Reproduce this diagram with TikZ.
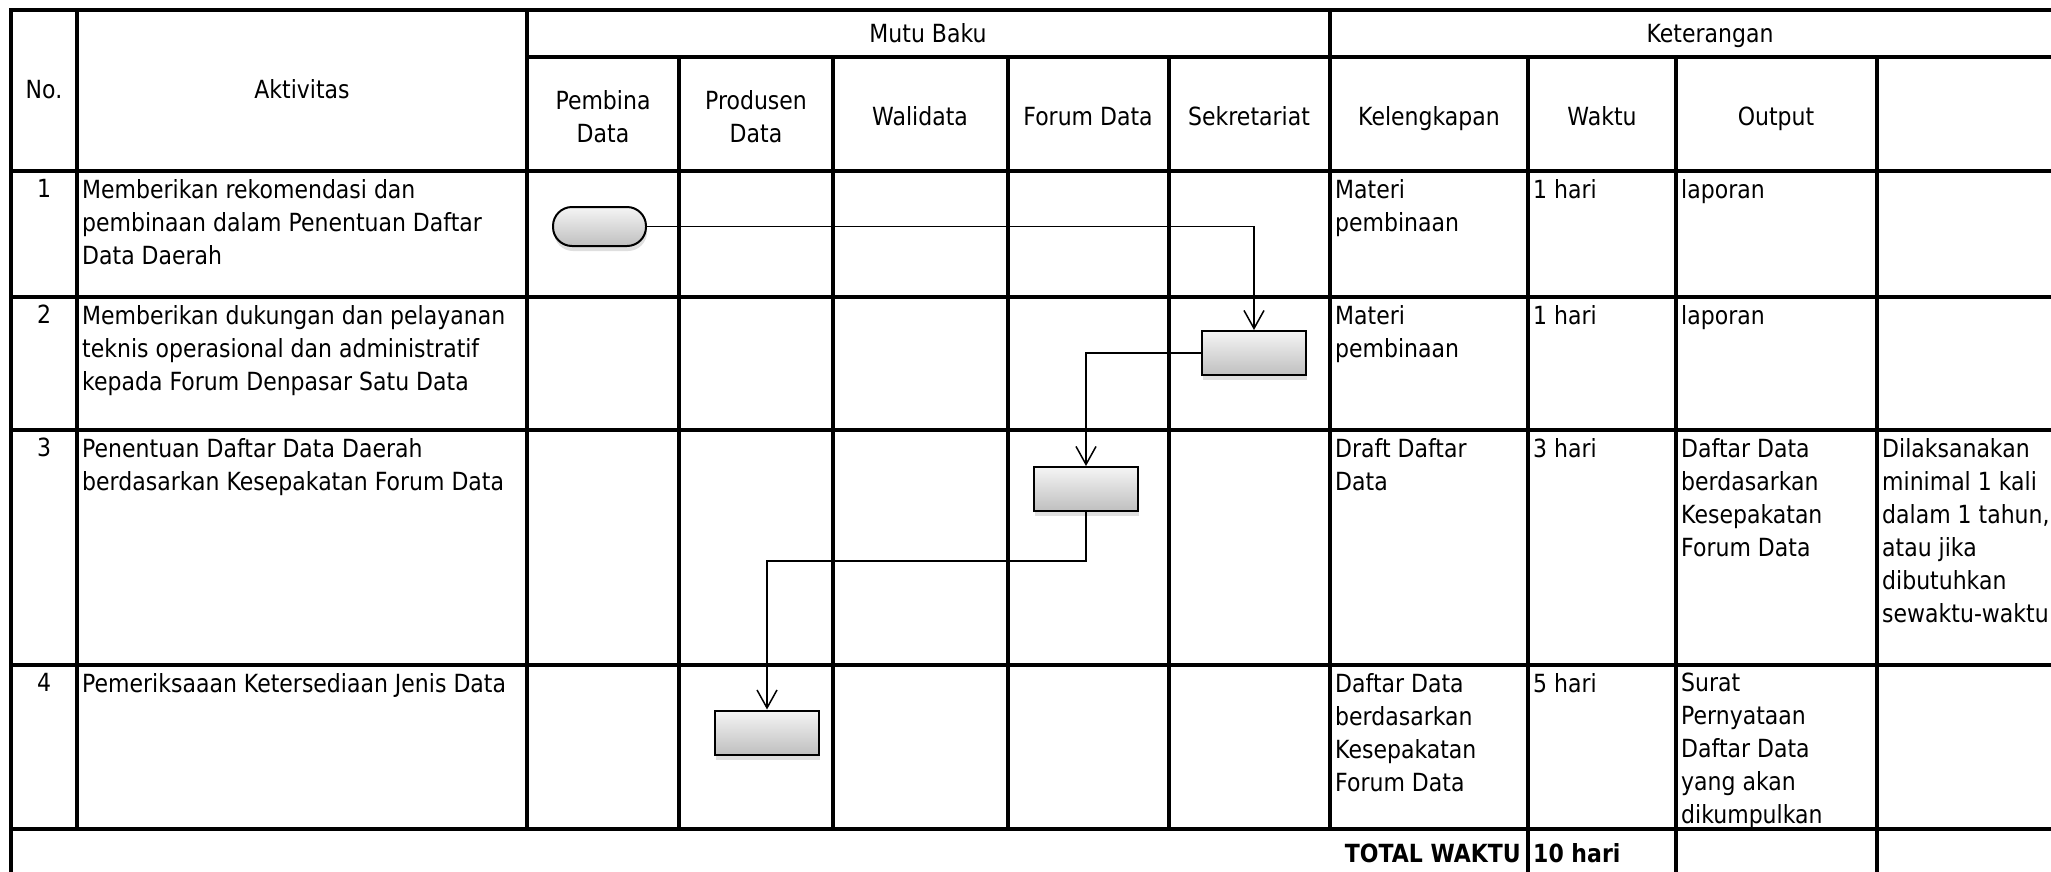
\documentclass[tikz,border=0pt]{standalone}
\usepackage{fontspec}
\setmainfont{DejaVu Sans}[FakeStretch=0.88]
\usetikzlibrary{arrows.meta,shadows}

\begin{document}
\begin{tikzpicture}
  [x=1pt,y=-1pt,
   every node/.style={inner sep=0pt,font=\fontsize{25}{33}\selectfont},
   hdr/.style={anchor=north,align=center},
   cell/.style={anchor=north west,align=left},
   num/.style={anchor=north},
   gridline/.style={line width=3.2pt,line cap=rect},
   proc/.style={draw,line width=2pt,top color=gray!8,bottom color=gray!50,
     drop shadow={shadow xshift=1pt,shadow yshift=-5pt,opacity=.25},
     minimum width=104pt,minimum height=44pt},
   term/.style={proc,rounded corners=19pt,minimum width=93pt,minimum height=39pt},
   flowarrow/.style={line width=1.5pt,-{Straight Barb[length=18pt,width=20pt]}}]
  \useasboundingbox (0,0) rectangle (2051,871);

  \foreach \y in {10,171,297,430,665,829}
    \draw[gridline] (11,\y) -- (2090,\y);
  \draw[gridline] (527,57) -- (2090,57);
  \foreach \x/\ya/\yb in {11/10/880,77/10/829,527/10/829,679/57/829,833/57/829,
      1008/57/829,1169/57/829,1330/10/829,1528/57/880,1676/57/880,1877/57/880,2090/10/880}
    \draw[gridline] (\x,\ya) -- (\x,\yb);

  \node[anchor=base] (no) at (44,98) {No.};
  \node[anchor=base] (akt) at (302,98) {Aktivitas};
  \node[anchor=base] (mutu) at (928,42) {Mutu Baku};
  \node[anchor=base] (ket) at (1710,42) {Keterangan};
  \node[hdr] (pembina) at (603,90) {Pembina\\Data};
  \node[hdr] (produsen) at (756,90) {Produsen\\Data};
  \node[anchor=base] (walidata) at (920,125) {Walidata};
  \node[anchor=base] (forumdata) at (1088,125) {Forum Data};
  \node[anchor=base] (sekretariat) at (1249,125) {Sekretariat};
  \node[anchor=base] (kelengkapan) at (1429,125) {Kelengkapan};
  \node[anchor=base] (waktu) at (1602,125) {Waktu};
  \node[anchor=base] (output) at (1776,125) {Output};

  \node[num] (n1) at (44,179) {1};
  \node[cell] (a1) at (82,179) {Memberikan rekomendasi dan\\pembinaan dalam Penentuan Daftar\\Data Daerah};
  \node[cell] (k1) at (1335,179) {Materi\\pembinaan};
  \node[cell] (w1) at (1533,179) {1 hari};
  \node[cell] (o1) at (1681,179) {laporan};

  \node[num] (n2) at (44,305) {2};
  \node[cell] (a2) at (82,305) {Memberikan dukungan dan pelayanan\\teknis operasional dan administratif\\kepada Forum Denpasar Satu Data};
  \node[cell] (k2) at (1335,305) {Materi\\pembinaan};
  \node[cell] (w2) at (1533,305) {1 hari};
  \node[cell] (o2) at (1681,305) {laporan};

  \node[num] (n3) at (44,438) {3};
  \node[cell] (a3) at (82,438) {Penentuan Daftar Data Daerah\\berdasarkan Kesepakatan Forum Data};
  \node[cell] (k3) at (1335,438) {Draft Daftar\\Data};
  \node[cell] (w3) at (1533,438) {3 hari};
  \node[cell] (o3) at (1681,438) {Daftar Data\\berdasarkan\\Kesepakatan\\Forum Data};
  \node[cell] (c3) at (1882,438) {Dilaksanakan\\minimal 1 kali\\dalam 1 tahun,\\atau jika\\dibutuhkan\\sewaktu-waktu};

  \node[num] (n4) at (44,673) {4};
  \node[cell] (a4) at (82,673) {Pemeriksaaan Ketersediaan Jenis Data};
  \node[cell] (k4) at (1335,673) {Daftar Data\\berdasarkan\\Kesepakatan\\Forum Data};
  \node[cell] (w4) at (1533,673) {5 hari};
  \node[cell] (o4) at (1681,673) {Surat\\Pernyataan\\Daftar Data\\yang akan\\dikumpulkan};

  \node[anchor=base east,font=\fontsize{25}{33}\selectfont\bfseries] (total) at (1521,862) {TOTAL WAKTU};
  \node[anchor=base west,font=\fontsize{25}{33}\selectfont\bfseries] (totalw) at (1533,862) {10 hari};

  \node[term] (start) at (599.5,226.5) {};
  \node[proc] (sekr) at (1254,353) {};
  \node[proc] (forum) at (1086,489) {};
  \node[proc] (prod) at (767,732.5) {};
  \coordinate (bend) at (1086,561);

  \foreach \from/\to in {start.east/sekr.north,sekr.west/forum.north}
    \draw[flowarrow] (\from) -| (\to);
  \draw[flowarrow] (forum.south) -- (bend) -| (prod.north);
\end{tikzpicture}
\end{document}
